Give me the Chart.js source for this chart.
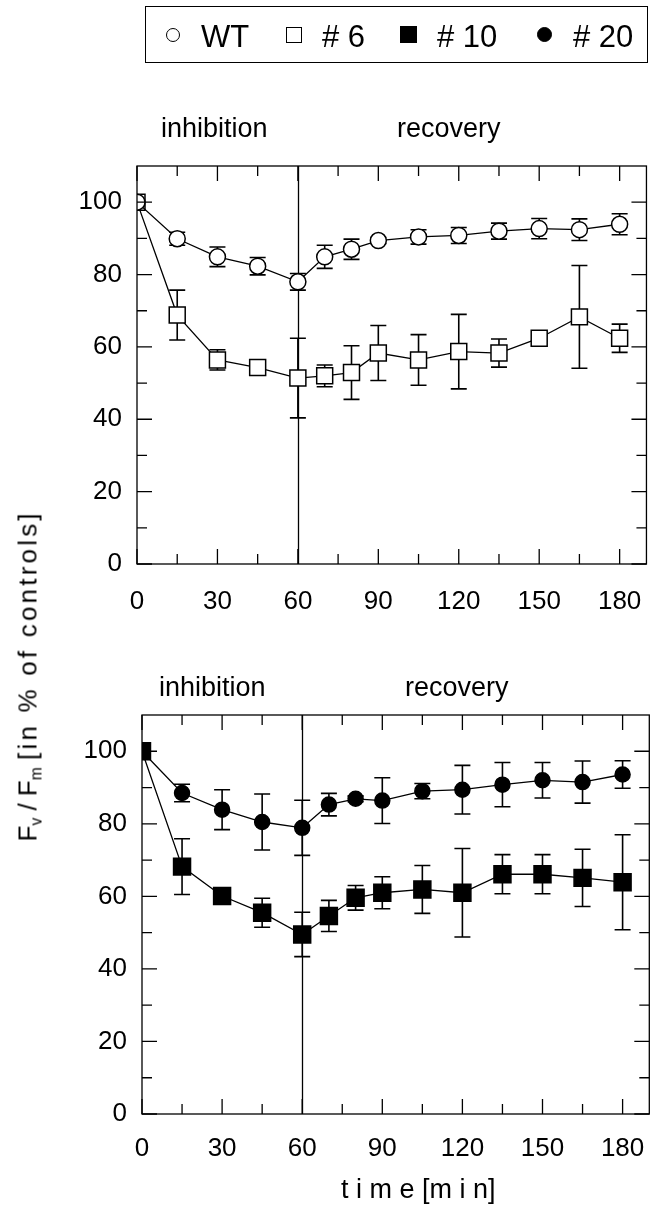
<!DOCTYPE html>
<html>
<head>
<meta charset="utf-8">
<title>Fv/Fm inhibition and recovery</title>
<script src="https://cdn.jsdelivr.net/npm/chart.js"></script>
<style>
  body { margin: 0; background: #fff; color: #000; font-family: "Liberation Sans", Arial, sans-serif; }
  #wrap { position: relative; width: 664px; height: 1218px; overflow: hidden; }
  canvas { position: absolute; left: 0; }
  .lbl { position: absolute; font-size: 27px; line-height: 27px; white-space: nowrap; z-index: 2; }
  #legend { position: absolute; left: 145px; top: 6px; width: 503px; height: 57px; border: 1px solid #000; box-sizing: border-box; z-index: 2; }
  .leg { position: absolute; top: 14px; font-size: 31px; line-height: 31px; white-space: nowrap; }
  .mk { position: absolute; box-sizing: border-box; border: 1.3px solid #000; }
  #ytitle { position: absolute; left: -132px; top: 668px; width: 320px; text-align: center; transform: rotate(-90deg); font-size: 26px; line-height: 27px; white-space: nowrap; z-index: 2; }
  #ytitle sub { font-size: 60%; vertical-align: -0.3em; line-height: 0; }
  #ytitle .sp { letter-spacing: 3.2px; }
</style>
</head>
<body>
<div id="wrap">
  <canvas id="topChart" width="664" height="640" style="top:0"></canvas>
  <canvas id="bottomChart" width="664" height="578" style="top:640px"></canvas>

  <div id="legend"></div>

  <div class="lbl" style="left:161px; top:115px">inhibition</div>
  <div class="lbl" style="left:397px; top:115px">recovery</div>
  <div class="lbl" style="left:159px; top:674px">inhibition</div>
  <div class="lbl" style="left:405px; top:674px">recovery</div>

  <div id="ytitle">F<sub>v</sub> / F<sub>m</sub> <span class="sp">[in % of controls]</span></div>
  <div class="lbl" style="left:341px; top:1176px">t i m e [m i n]</div>
</div>

<script>
  // time points (min) and values in % of controls
  const TIME = [0, 15, 30, 45, 60, 70, 80, 90, 105, 120, 135, 150, 165, 180];

  const WT      = [100, 89.9, 84.9, 82.3, 78.0, 84.9, 87.0, 89.4, 90.4, 90.8, 92.0, 92.7, 92.4, 93.9];
  const WT_ERR  = [0, 1.8, 2.7, 2.4, 2.3, 3.2, 2.8, 0.8, 2.0, 2.2, 2.2, 2.8, 3.0, 2.9];
  const L6      = [100, 68.8, 56.4, 54.3, 51.4, 52.0, 52.9, 58.3, 56.4, 58.7, 58.3, 62.4, 68.3, 62.4];
  const L6_ERR  = [0, 6.9, 2.8, 0.8, 11.0, 3.0, 7.4, 7.6, 7.0, 10.3, 3.9, 0.8, 14.2, 3.9];
  const L10     = [100, 68.2, 60.1, 55.5, 49.5, 54.6, 59.6, 61.0, 61.9, 61.0, 66.1, 66.1, 65.1, 63.9];
  const L10_ERR = [0, 7.7, 0.8, 4.0, 6.1, 4.3, 3.4, 4.4, 6.6, 12.2, 5.4, 5.4, 7.9, 13.1];
  const L20     = [100, 88.5, 83.9, 80.5, 78.9, 85.3, 86.9, 86.4, 89.0, 89.4, 90.8, 92.0, 91.5, 93.6];
  const L20_ERR = [0, 2.4, 5.5, 7.7, 7.6, 3.1, 0.8, 6.3, 2.1, 6.7, 6.1, 4.9, 5.8, 3.8];

  const X_TICKS = [0, 30, 60, 90, 120, 150, 180];
  const X_MINOR = [15, 45, 75, 105, 135, 165];
  const Y_TICKS = [0, 20, 40, 60, 80, 100];
  const Y_MINOR = [10, 30, 50, 70, 90];
  const SWITCH_TIME = 60; // end of inhibition, start of recovery

  const FONT = '"Liberation Sans", Arial, sans-serif';

  // legend (html): marker box + text, positions inside the frame
  const legendItems = [
    { text: 'WT',   mk: 'left:20px;  top:21px; width:14px; height:14px; border-radius:50%; background:#fff', tx: 55 },
    { text: '# 6',  mk: 'left:140px; top:20px; width:16px; height:16px; background:#fff', tx: 176 },
    { text: '# 10', mk: 'left:254px; top:19px; width:17px; height:17px; background:#000', tx: 291 },
    { text: '# 20', mk: 'left:391px; top:20px; width:15px; height:15px; border-radius:50%; background:#000', tx: 427 }
  ];
  const legend = document.getElementById('legend');
  legendItems.forEach(it => {
    const m = document.createElement('div');
    m.className = 'mk';
    m.style.cssText = it.mk;
    legend.appendChild(m);
    const t = document.createElement('div');
    t.className = 'leg';
    t.style.left = it.tx + 'px';
    t.textContent = it.text;
    legend.appendChild(t);
  });

  // error bars, divider line, frame and inward ticks
  const decor = {
    id: 'decor',
    beforeDatasetsDraw(chart) {
      const { ctx, chartArea: a, scales: { x, y } } = chart;
      ctx.save();
      ctx.strokeStyle = '#000';
      ctx.lineWidth = 1.3;
      const vx = Math.round(x.getPixelForValue(SWITCH_TIME)) + 0.5;
      ctx.beginPath();
      ctx.moveTo(vx, a.top);
      ctx.lineTo(vx, a.bottom);
      ctx.stroke();

      ctx.lineWidth = 1.6;
      chart.data.datasets.forEach(ds => {
        ds.data.forEach((p, i) => {
          const e = ds.err[i];
          if (!e) return;
          const px = x.getPixelForValue(p.x);
          const y1 = y.getPixelForValue(p.y + e);
          const y2 = y.getPixelForValue(p.y - e);
          ctx.beginPath();
          ctx.moveTo(px, y1); ctx.lineTo(px, y2);
          ctx.moveTo(px - 8, y1); ctx.lineTo(px + 8, y1);
          ctx.moveTo(px - 8, y2); ctx.lineTo(px + 8, y2);
          ctx.stroke();
        });
      });
      ctx.restore();
    },
    afterDraw(chart) {
      const { ctx, chartArea: a, scales: { x, y } } = chart;
      ctx.save();
      ctx.strokeStyle = '#000';
      ctx.lineWidth = 1.3;
      ctx.strokeRect(a.left, a.top, a.right - a.left, a.bottom - a.top);
      ctx.beginPath();
      const xt = (v, len) => {
        const px = x.getPixelForValue(v);
        ctx.moveTo(px, a.bottom); ctx.lineTo(px, a.bottom - len);
        ctx.moveTo(px, a.top); ctx.lineTo(px, a.top + len);
      };
      const yt = (v, len) => {
        const py = y.getPixelForValue(v);
        ctx.moveTo(a.left, py); ctx.lineTo(a.left + len, py);
        ctx.moveTo(a.right, py); ctx.lineTo(a.right - len, py);
      };
      X_TICKS.forEach(v => xt(v, 15));
      X_MINOR.forEach(v => xt(v, 10));
      Y_TICKS.forEach(v => yt(v, 15));
      Y_MINOR.forEach(v => yt(v, 10));
      ctx.stroke();
      ctx.restore();
    }
  };

  function series(label, values, err, style, r, fill) {
    return {
      label: label,
      data: TIME.map((t, i) => ({ x: t, y: values[i] })),
      err: err,
      borderColor: '#000',
      borderWidth: 1.3,
      pointStyle: style,
      pointRadius: r,
      pointBackgroundColor: fill,
      pointBorderColor: '#000',
      pointBorderWidth: 1.5,
      tension: 0
    };
  }

  function makeChart(id, datasets, area, height, xPad) {
    return new Chart(document.getElementById(id), {
      type: 'line',
      data: { datasets: datasets },
      options: {
        responsive: false,
        animation: false,
        layout: { padding: { left: 0, top: area.top, right: 664 - area.right, bottom: 0 } },
        plugins: { legend: { display: false }, tooltip: { enabled: false } },
        scales: {
          x: {
            type: 'linear', min: 0, max: 190,
            grid: { display: false, drawTicks: false },
            border: { display: false },
            afterBuildTicks: s => { s.ticks = X_TICKS.map(v => ({ value: v })); },
            afterFit: s => { s.height = height - area.bottom; },
            ticks: { color: '#000', font: { family: FONT, size: 26 }, padding: xPad, maxRotation: 0, autoSkip: false }
          },
          y: {
            min: 0, max: 110,
            grid: { display: false, drawTicks: false },
            border: { display: false },
            afterBuildTicks: s => { s.ticks = Y_TICKS.map(v => ({ value: v })); },
            afterFit: s => { s.width = area.left; },
            ticks: { color: '#000', font: { family: FONT, size: 26 }, padding: 15 }
          }
        }
      },
      plugins: [decor]
    });
  }

  makeChart('topChart', [
    series('WT', WT, WT_ERR, 'circle', 8, '#fff'),
    series('# 6', L6, L6_ERR, 'rect', 11.3, '#fff')
  ], { left: 137, right: 653, top: 166, bottom: 564 }, 640, 22);

  makeChart('bottomChart', [
    series('# 20', L20, L20_ERR, 'circle', 7.5, '#000'),
    series('# 10', L10, L10_ERR, 'rect', 12, '#000')
  ], { left: 142, right: 659, top: 75, bottom: 474 }, 578, 19);
</script>
</body>
</html>
